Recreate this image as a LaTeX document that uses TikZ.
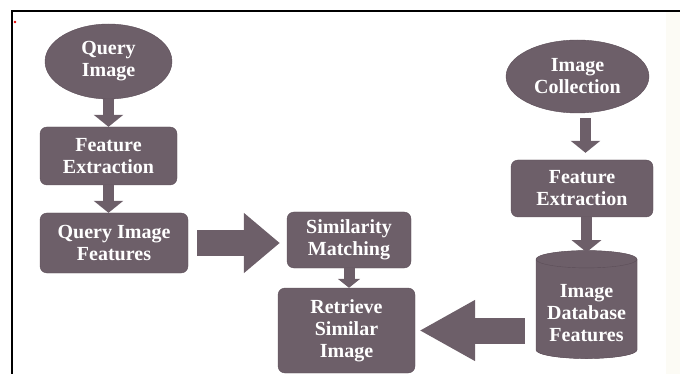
\documentclass[tikz,border=0pt]{standalone}
\usepackage{fontspec}
\setmainfont{Liberation Serif}
\usetikzlibrary{shapes.geometric,arrows.meta,calc}
\definecolor{boxfill}{HTML}{6D5F69}
\definecolor{boxline}{HTML}{5C4E58}
\definecolor{dbtop}{HTML}{A89FA6}
\definecolor{cream}{HTML}{FCFBF5}

\tikzset{
    stepbox/.style={draw=boxline, fill=boxfill, text=white, rounded corners=7pt, align=center, inner sep=0pt,
        font=\fontsize{20}{22}\selectfont\bfseries},
    startoval/.style={stepbox, ellipse, rounded corners=0pt},
    dbase/.style={stepbox, cylinder, rounded corners=0pt, shape border rotate=90, aspect=0.22,
        cylinder uses custom fill, cylinder body fill=boxfill, cylinder end fill=dbtop},
    thinarrow/.style={draw=boxfill, line width=11pt, -{Triangle[width=29pt,length=12pt]}},
    fatarrow/.style={draw=boxfill, line width=25pt, -{Triangle[width=58pt,length=36pt]}}
}

\begin{document}
\begin{tikzpicture}[x=1pt,y=-1pt]

            \useasboundingbox (0,0) rectangle (680,374);
            \fill[cream] (666,12) rectangle (680,374);

            % frame
            \draw[line width=2pt] (12,374) -- (12,11) -- (680,11);
            \fill[red!90!black] (15,22) circle (1.3);

            % query side
            \node[startoval, minimum width=127pt, minimum height=75pt] (qimg) at (108.5,61.5) {Query\\Image};
            \node[stepbox, minimum width=137pt, minimum height=58pt] (qfe) at (108.5,156) {Feature\\Extraction};
            \node[stepbox, minimum width=148pt, minimum height=60pt] (qfeat) at (114,243) {Query Image\\Features};

            % matching
            \node[stepbox, minimum width=124pt, minimum height=56pt] (simm) at (349,240) {Similarity\\Matching};
            \node[stepbox, minimum width=137pt, minimum height=85pt] (retr) at (346.5,330.5) {Retrieve\\Similar\\Image};

            % collection side
            \node[startoval, minimum width=143pt, minimum height=73pt] (icoll) at (577.5,76.5) {Image\\Collection};
            \node[stepbox, minimum width=142pt, minimum height=57pt] (ife) at (582,188.5) {Feature\\Extraction};
            \node[dbase, minimum width=101pt, minimum height=108pt] (idb) at (586.5,309) {\\Image\\Database\\Features};
            \coordinate (cstart) at ($(icoll.south)+(8,0)$);

            % connections
            \draw[thinarrow] (qimg) -- (qfe); % query image to feature extraction
            \draw[thinarrow] (qfe.south) -- (qfe.south |- qfeat.north); % to query features
            \draw[fatarrow, shorten <=9pt, shorten >=7pt] (qfeat.east) -- (qfeat.east -| simm.west); % into matching
            \draw[thinarrow, -{Triangle[width=22pt,length=9pt]}] (simm) -- (simm |- retr.north); % matching to retrieve
            \draw[thinarrow, shorten <=5pt, shorten >=7pt] (cstart) -- (cstart |- ife.north); % collection to extraction
            \draw[thinarrow] (ife.south -| idb) -- ++(0,35); % extraction to database
            \draw[fatarrow, line width=26pt, -{Triangle[width=57pt,length=56pt]}, shorten <=11pt, shorten >=4pt] (retr.east -| idb.west) -- (retr.east); % database back to retrieve

        \end{tikzpicture}
\end{document}
